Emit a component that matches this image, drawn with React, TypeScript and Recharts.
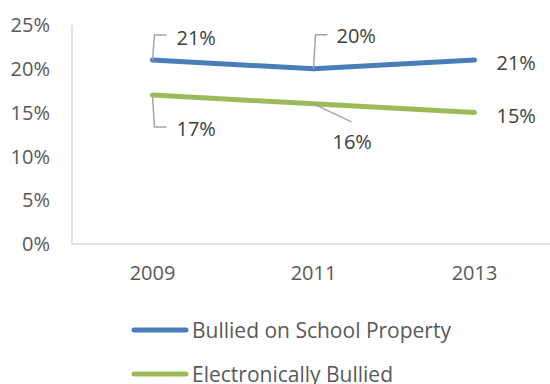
import React from "react";
import { LineChart, Line, XAxis, YAxis, Legend, LabelList } from "recharts";

const years = ["2009", "2011", "2013"];
const schoolProperty = [21, 20, 21];
const electronically = [17, 16, 15];
const yTicks = [0, 5, 10, 15, 20, 25];

const seriesNames = ["Bullied on School Property", "Electronically Bullied"];
const colors = ["#4A7EBB", "#9BBB59"];

const data = years.map((y, i) => ({
  year: y,
  school: schoolProperty[i],
  electronic: electronically[i],
}));

const FONT = "'Open Sans', sans-serif";
const LEADER = "#A6A6A6";
const LABEL_COLOR = "#404040";

type Off = { text: [number, number]; leader?: [number, number][] };

const blueOffsets: Off[] = [
  { text: [24, -23], leader: [[0, 0], [2, -25], [14, -25]] },
  { text: [23, -33], leader: [[0, 0], [2, -34], [14, -34]] },
  { text: [22, 2] },
];
const greenOffsets: Off[] = [
  { text: [24, 33], leader: [[0, 0], [2, 32], [14, 32]] },
  { text: [19, 38], leader: [[0, 0], [38, 18]] },
  { text: [22, 3] },
];

const makeLabel = (offs: Off[]) => (props: any) => {
  const { x, y, value, index } = props;
  const o = offs[index];
  if (!o) return null;
  return (
    <g>
      {o.leader && (
        <polyline
          points={o.leader.map(([dx, dy]) => `${x + dx},${y + dy}`).join(" ")}
          fill="none"
          stroke={LEADER}
          strokeWidth={1.5}
        />
      )}
      <text
        x={x + o.text[0]}
        y={y + o.text[1]}
        fill={LABEL_COLOR}
        fontSize={20}
        fontFamily={FONT}
        dominantBaseline="central"
        textAnchor="start"
      >
        {`${value}%`}
      </text>
    </g>
  );
};

const LegendContent = () => (
  <div style={{ position: "relative", width: 550 }}>
    {seriesNames.map((n, i) => (
      <div
        key={n}
        style={{
          position: "absolute",
          left: 131,
          top: i * 44,
          display: "flex",
          alignItems: "center",
          height: 30,
          whiteSpace: "nowrap",
        }}
      >
        <svg width={58} height={10} style={{ marginRight: 3 }}>
          <line x1={3} y1={5} x2={55} y2={5} stroke={colors[i]} strokeWidth={5} strokeLinecap="round" />
        </svg>
        <span style={{ fontFamily: FONT, fontSize: 21, color: "#595959" }}>{n}</span>
      </div>
    ))}
  </div>
);

export default function App() {
  return (
    <div style={{ position: "absolute", left: 0, top: 0, width: 550, height: 384, overflow: "hidden", background: "#fff" }}>
      <LineChart width={560} height={384} data={data} margin={{ top: 25, right: 5, bottom: 100, left: 0 }}>
        <XAxis
          dataKey="year"
          scale="band"
          axisLine={{ stroke: "#D9D9D9", strokeWidth: 1.5 }}
          tickLine={false}
          tickSize={0}
          tickMargin={22}
          height={40}
          tick={{ fill: "#595959", fontSize: 20, fontFamily: FONT }}
        />
        <YAxis
          domain={[0, 25]}
          ticks={yTicks}
          tickFormatter={(v: number) => `${v}%`}
          axisLine={{ stroke: "#D9D9D9", strokeWidth: 1.5 }}
          tickLine={false}
          tickSize={0}
          tickMargin={22}
          width={72}
          interval={0}
          tick={{ fill: "#595959", fontSize: 20, fontFamily: FONT }}
        />
        <Legend
          content={<LegendContent />}
          wrapperStyle={{ position: "absolute", left: 0, top: 315, width: 550, height: 0 }}
        />
        <Line
          dataKey="school"
          name={seriesNames[0]}
          stroke={colors[0]}
          strokeWidth={5}
          strokeLinecap="round"
          dot={false}
          isAnimationActive={false}
        >
          <LabelList dataKey="school" content={makeLabel(blueOffsets)} />
        </Line>
        <Line
          dataKey="electronic"
          name={seriesNames[1]}
          stroke={colors[1]}
          strokeWidth={5}
          strokeLinecap="round"
          dot={false}
          isAnimationActive={false}
        >
          <LabelList dataKey="electronic" content={makeLabel(greenOffsets)} />
        </Line>
      </LineChart>
    </div>
  );
}
